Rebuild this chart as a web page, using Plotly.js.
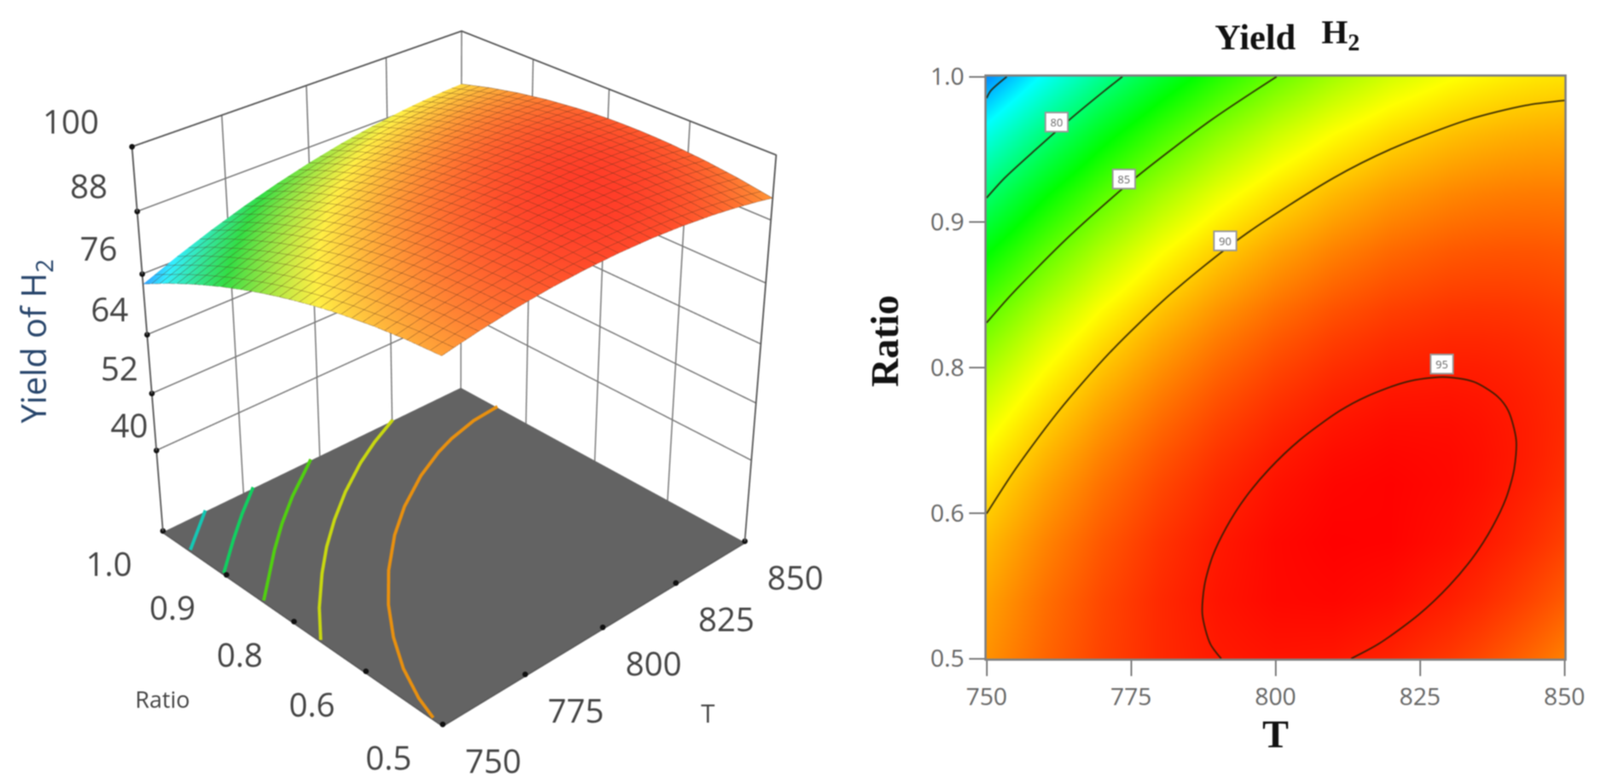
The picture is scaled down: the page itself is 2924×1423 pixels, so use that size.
<!DOCTYPE html>
<html><head><meta charset="utf-8">
<script src="https://cdn.plot.ly/plotly-3.0.1.min.js"></script>
<style>html,body{margin:0;padding:0;background:#fff;overflow:hidden;width:2924px;height:1423px}#g{position:absolute;left:0;top:-1003px;width:2924px;height:3300px;filter:blur(0.8px)}</style>
</head><body><div id="g"></div>
<script>
const temperature=[750,760,770,780,790,800,810,820,830,835,840,845,850];
const ratio=[0.5,0.55,0.6,0.65,0.675,0.7,0.725,0.75,0.775,0.8,0.85,0.9,0.95,1.0];
const yieldH2=[
[91.61,92.85,93.83,94.54,94.98,95.16,95.08,94.73,94.12,93.72,93.24,92.71,92.10],
[91.17,92.56,93.68,94.54,95.13,95.46,95.53,95.33,94.86,94.53,94.14,93.67,93.14],
[90.44,91.97,93.24,94.25,94.99,95.47,95.68,95.63,95.31,95.06,94.74,94.35,93.89],
[89.41,91.10,92.51,93.67,94.56,95.18,95.54,95.64,95.47,95.29,95.04,94.73,94.35],
[88.79,90.55,92.04,93.27,94.23,94.93,95.36,95.53,95.44,95.30,95.08,94.81,94.46],
[88.09,89.92,91.49,92.79,93.83,94.60,95.11,95.36,95.34,95.23,95.05,94.81,94.51],
[87.32,89.23,90.87,92.24,93.36,94.20,94.79,95.11,95.16,95.09,94.95,94.75,94.48],
[86.48,88.46,90.17,91.62,92.81,93.73,94.39,94.78,94.91,94.88,94.78,94.61,94.38],
[85.56,87.62,89.40,90.93,92.19,93.18,93.92,94.38,94.59,94.59,94.53,94.40,94.20],
[84.57,86.70,88.56,90.16,91.49,92.56,93.37,93.91,94.19,94.23,94.20,94.11,93.95],
[82.38,84.65,86.66,88.41,89.89,91.11,92.06,92.75,93.18,93.29,93.34,93.32,93.23],
[79.88,82.31,84.46,86.36,87.99,89.36,90.46,91.30,91.87,92.06,92.18,92.23,92.22],
[77.10,79.67,81.98,84.02,85.80,87.31,88.56,89.55,90.27,90.53,90.73,90.86,90.92],
[74.02,76.74,79.20,81.39,83.31,84.97,86.37,87.51,88.38,88.71,88.98,89.19,89.32]];
const tTicks=[750,775,800,825,850];
const rTicks=[0.5,0.625,0.75,0.875,1.0];
const rTickText=['0.5','0.6','0.8','0.9','1.0'];
const zTicks=[40,52,64,76,88,100];
const floorLevel=22;
const floorT=[750,850];
const floorR=[0.5,1.0];
const floorZ=[[22.1,22.1],[22.1,22.1]];
const contour775T=[750,757.1,763];
const contour775R=[0.945,0.975,1.0];
const contour81T=[750,759.9,768.6,778.1];
const contour81R=[0.88,0.925,0.9625,1.0];
const contour845T=[750,756.8,764.6,773.1,782.6,797];
const contour845R=[0.805,0.8375,0.875,0.9125,0.95,1.0];
const contour88T=[750,757.6,766.9,774.7,783.6,793.6,805.2,814.4,825.3];
const contour88R=[0.7025,0.75,0.80,0.8375,0.875,0.9125,0.95,0.975,1.0];
const contour915T=[750,752.2,756.7,762.7,770.1,779.1,790,800,812.4,823.1,830.1,840.5,850];
const contour915R=[0.515,0.55,0.60,0.65,0.70,0.75,0.80,0.8375,0.875,0.90,0.9125,0.925,0.929];
const line75T=[750,750.7,753.5];
const line75R=[0.9815,0.9878,1.0];
const line80T=[750,753.1,758.6,764.3,770.4,773.5];
const line80R=[0.8958,0.9128,0.9378,0.9628,0.9878,1.0];
const line85T=[750,754.3,764.3,775.7,788.9,800.2];
const line85R=[0.7885,0.8128,0.8628,0.9128,0.9628,1.0];
const line90T=[750,755,762.5,771.3,781.75,794.3,810,820,833.2,843.3,850];
const line90R=[0.6245,0.6628,0.7128,0.7628,0.8128,0.8628,0.9128,0.9378,0.9628,0.9753,0.9795];
const line95T=[790.6,788.7,787.35,787.7,789.1,791.5,794.7,798.9,804.2,811.1,815.8,822.7,829,834.3,838.4,840.3,841.65,841.3,839.9,837.5,834.3,830.1,824.8,817.9,813.1];
const line95R=[0.5,0.5128,0.5378,0.5628,0.5878,0.6128,0.6378,0.6628,0.6878,0.7128,0.7253,0.7378,0.7419,0.7378,0.7253,0.7128,0.6878,0.6628,0.6378,0.6128,0.5878,0.5628,0.5378,0.5128,0.5];
const labelValues=['80','85','90','95'];
const labelT=[762.1,773.75,791.25,828.8];
const labelR=[0.961,0.912,0.859,0.753];

const scale=[[0,'#0000ff'],[0.223,'#00ffff'],[0.466,'#00ff00'],[0.709,'#ffff00'],[1,'#ff0000']];
const surfaceScale=[[0,'#3344ff'],[0.223,'#33eeff'],[0.466,'#33dd44'],[0.709,'#ffee44'],[1,'#ff3c28']];
const W=2924,OFF=1003,H=3300;
const py=p=>1-(p+OFF)/H;
function floorLine(ts,rs,c){return {type:'scatter3d',mode:'lines',x:ts,y:rs,z:ts.map(()=>22.4),
  line:{color:c,width:12},hoverinfo:'skip',showlegend:false};}
const isoLine=(ts,rs)=>({type:'scatter',mode:'lines',x:ts,y:rs,xaxis:'x',yaxis:'y',cliponaxis:true,
  line:{color:'rgba(40,30,5,0.85)',width:3,shape:'spline',smoothing:0.8},hoverinfo:'skip',showlegend:false});
const dots=(xs,ys,zs)=>({type:'scatter3d',mode:'markers',x:xs,y:ys,z:zs,marker:{size:6,color:'#111111'},hoverinfo:'skip',showlegend:false});
const axis3d=(extra)=>Object.assign({
  showbackground:false,showgrid:true,gridcolor:'#787878',gridwidth:5,
  showline:true,linecolor:'#555555',linewidth:6,mirror:true,zeroline:false,showspikes:false,
  ticks:'',showticklabels:false,title:{text:''}},extra);
const traces=[
 {type:'surface',x:floorT,y:floorR,z:floorZ,colorscale:[[0,'#636363'],[1,'#636363']],cmin:0,cmax:1,surfacecolor:[[0,0],[0,0]],
  showscale:false,lighting:{ambient:1,diffuse:0,specular:0,fresnel:0,roughness:1},hoverinfo:'skip'},
 floorLine(contour775T,contour775R,'#14c8b4'),
 floorLine(contour81T,contour81R,'#10d060'),
 floorLine(contour845T,contour845R,'#50d010'),
 floorLine(contour88T,contour88R,'#c8d810'),
 floorLine(contour915T,contour915R,'#e8900f'),
 dots(tTicks,tTicks.map(()=>0.5),tTicks.map(()=>22.4)),
 dots(rTicks.map(()=>750),rTicks,rTicks.map(()=>22.4)),
 dots(zTicks.map(()=>750),zTicks.map(()=>1.0),zTicks),
 {type:'surface',x:temperature,y:ratio,z:yieldH2,colorscale:surfaceScale,cmin:71,cmax:95.7,showscale:false,
  lighting:{ambient:1,diffuse:0,specular:0,fresnel:0,roughness:1},hoverinfo:'skip',
  contours:{
   x:{show:true,start:750,end:850,size:3.333,color:'#55301a',width:5,highlight:false},
   y:{show:true,start:0.5,end:1,size:0.01667,color:'#55301a',width:5,highlight:false},
   z:{show:false,highlight:false}}},
 {type:'heatmap',x:temperature,y:ratio,z:yieldH2,colorscale:scale,zmin:71,zmax:95.7,zsmooth:'best',showscale:false,xaxis:'x',yaxis:'y',hoverinfo:'skip'},
 isoLine(line75T,line75R),isoLine(line80T,line80R),isoLine(line85T,line85R),isoLine(line90T,line90R),isoLine(line95T,line95R)
];
const ann=labelValues.map((t,i)=>({x:labelT[i],y:labelR[i],xref:'x',yref:'y',text:t,showarrow:false,
  font:{family:'Open Sans',size:20,color:'#666666'},bgcolor:'#ffffff',bordercolor:'#999999',borderwidth:3,width:36,height:30}));
ann.push({xref:'paper',yref:'paper',x:2294/W,y:py(67),xanchor:'center',yanchor:'middle',text:'<b>Yield</b>',showarrow:false,font:{family:'Liberation Serif',size:66,color:'#111111'}});
ann.push({xref:'paper',yref:'paper',x:2450/W,y:py(62),xanchor:'center',yanchor:'middle',text:'<b>H<sub>2</sub></b>',showarrow:false,font:{family:'Liberation Serif',size:62,color:'#111111'}});
ann.push({xref:'paper',yref:'paper',x:1617/W,y:py(623),xanchor:'center',yanchor:'middle',textangle:-90,text:'<b>Ratio</b>',showarrow:false,font:{family:'Liberation Serif',size:72,color:'#111111'}});

const f3={family:'Open Sans',size:60,color:'#444444'};
const sceneAnn=[];
tTicks.forEach(t=>sceneAnn.push({x:t,y:0.5,z:22,text:String(t),showarrow:false,xshift:93,yshift:-62,font:f3}));
rTicks.forEach((r,i)=>sceneAnn.push({x:750,y:r,z:22,text:rTickText[i],showarrow:false,xshift:-99,yshift:-56,font:f3}));
const zShift=[-13,-22,-32,-43,-52,-58];
zTicks.forEach((z,i)=>sceneAnn.push({x:750,y:1.0,z:z,text:String(z),showarrow:false,xanchor:'right',xshift:zShift[i],yshift:47,font:f3}));
sceneAnn.push({x:800,y:0.5,z:22,text:'T',showarrow:false,xshift:192,yshift:-153,font:{family:'Open Sans',size:46,color:'#444444'}});
sceneAnn.push({x:750,y:0.75,z:22,text:'Ratio',showarrow:false,xshift:-240,yshift:-138,font:{family:'Open Sans',size:42,color:'#444444'}});
sceneAnn.push({x:750,y:1.0,z:64,text:'Yield of H<sub>2</sub>',textangle:-90,showarrow:false,xshift:-205,yshift:-12,font:{family:'Open Sans',size:62,color:'#27456b'}});

const layout={width:W,height:H,margin:{l:0,r:0,t:0,b:0},paper_bgcolor:'#ffffff',plot_bgcolor:'#ffffff',showlegend:false,hovermode:false,
 scene:{domain:{x:[0,1655/W],y:[0,1]},aspectmode:'manual',aspectratio:{x:1,y:1,z:1.03},
  camera:{projection:{type:'perspective'},eye:{x:-2.99,y:-3.18,z:2.52},center:{x:0,y:0,z:0},up:{x:0,y:0,z:1}},
  xaxis:axis3d({range:[750,850],tickvals:tTicks}),
  yaxis:axis3d({range:[0.5,1.0],tickvals:rTicks}),
  zaxis:axis3d({range:[floorLevel,100],tickvals:zTicks}),
  annotations:sceneAnn},
 xaxis:{domain:[1803/W,2859/W],anchor:'y',range:[750,850],tickvals:tTicks,ticks:'outside',ticklen:28,tickwidth:3,tickcolor:'#777777',
  showgrid:false,zeroline:false,showline:true,linecolor:'#808080',linewidth:4,mirror:true,
  tickfont:{family:'Open Sans',size:44,color:'#666666'},
  title:{text:'<b>T</b>',standoff:16,font:{family:'Liberation Serif',size:72,color:'#111111'}}},
 yaxis:{domain:[py(1203),py(140)],anchor:'x',range:[0.5,1.0],tickvals:rTicks,ticktext:rTickText,ticks:'outside',ticklen:28,tickwidth:3,tickcolor:'#777777',
  showgrid:false,zeroline:false,showline:true,linecolor:'#808080',linewidth:4,mirror:true,
  tickfont:{family:'Open Sans',size:44,color:'#666666'}},
 annotations:ann};
Plotly.newPlot('g',traces,layout,{displayModeBar:false});
</script></body></html>
